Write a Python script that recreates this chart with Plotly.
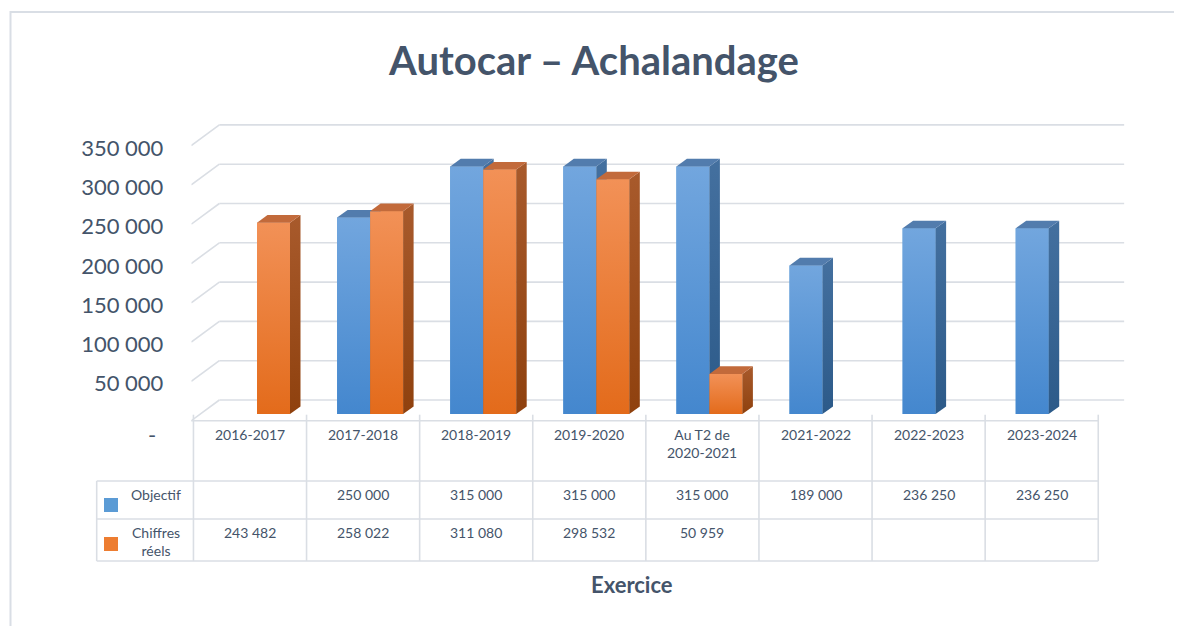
import plotly.graph_objects as go

# ---------------- data ----------------
categories = ["2016-2017", "2017-2018", "2018-2019", "2019-2020",
              "Au T2 de<br>2020-2021", "2021-2022", "2022-2023", "2023-2024"]
objectif = [None, 250000, 315000, 315000, 315000, 189000, 236250, 236250]
chiffres = [243482, 258022, 311080, 298532, 50959, None, None, None]
series_names = ["Objectif", "Chiffres réels"]
series_labels = ["Objectif", "Chiffres<br>réels"]
y_ticks = [50000, 100000, 150000, 200000, 250000, 300000, 350000]
title_text = "Autocar – Achalandage"
x_title = "Exercice"

# ---------------- geometry (pixels of the 1182x626 page) ----------------
PAGE_W, PAGE_H = 1182, 626
BODY = 8                         # default page margin around the figure div
W, H = PAGE_W - BODY, PAGE_H - BODY
PX0, PXS = 257.0, 113.1          # px of category 0 centre, px per category
PY0, PYS = 414.0, 0.000786       # px of value 0 on bar front plane, px per unit
X_RANGE = [-0.58, 7.7]
Y_RANGE = [-12000, 392000]
BAR_PX = 33.0
DEPTH = (10.5, -7.6)    # bar depth offset (px)
WALL = (18.9, -14.0)    # back wall offset from bar front plane (px)
FLOOR = (-9.2, 6.7)     # front floor edge offset from bar front plane (px)

TXT = "#44546A"
GRID = "#DADEE4"
FONT = "Lato"

def xpx(i):
    return PX0 + PXS * i

def ypx(v):
    return PY0 - PYS * v

def dxu(p):
    return p / PXS

def dyu(p):
    return -p / PYS

def px_x(p):
    return (p - BODY) / W

def px_y(p):
    return 1 - (p - BODY) / H

BW = BAR_PX / PXS

colors = {
    "Objectif": dict(front=("#4487CE", "#72A6DE"), side=("#2C5A89", "#44709F"),
                     top="#527CAD", solid="#5B9BD5"),
    "Chiffres réels": dict(front=("#E36B1B", "#F29157"), side=("#8F410E", "#A85A2C"),
                           top="#C26A3B", solid="#ED7D31"),
}

fig = go.Figure()

# bar traces (front faces) from the data
for name, vals, off in [(series_names[0], objectif, -BW), (series_names[1], chiffres, 0.0)]:
    fig.add_trace(go.Bar(
        x=list(range(len(categories))), y=vals, name=name, width=BW, offset=off,
        marker=dict(color=colors[name]["solid"], line=dict(width=0)),
        showlegend=False, hovertemplate="%{y:,d}<extra>" + name + "</extra>"))

# 3D shading faces computed from the same values
ddx, ddy = dxu(DEPTH[0]), dyu(DEPTH[1])
for name, vals, off in [(series_names[0], objectif, -BW), (series_names[1], chiffres, 0.0)]:
    c = colors[name]
    for i, v in enumerate(vals):
        if v is None:
            continue
        x0, x1 = i + off, i + off + BW
        # front with gradient
        fig.add_trace(go.Scatter(
            x=[x0, x1, x1, x0, x0], y=[0, 0, v, v, 0], mode="lines", fill="toself",
            line=dict(width=0), fillgradient=dict(type="vertical",
                                                   colorscale=[[0, c["front"][0]], [1, c["front"][1]]]),
            hoverinfo="skip", showlegend=False))
        # side face
        fig.add_trace(go.Scatter(
            x=[x1, x1 + ddx, x1 + ddx, x1, x1], y=[0, ddy, v + ddy, v, 0], mode="lines",
            fill="toself", line=dict(width=0),
            fillgradient=dict(type="vertical", colorscale=[[0, c["side"][0]], [1, c["side"][1]]]),
            hoverinfo="skip", showlegend=False))
        # top face
        fig.add_trace(go.Scatter(
            x=[x0, x1, x1 + ddx, x0 + ddx, x0], y=[v, v, v + ddy, v + ddy, v], mode="lines",
            fill="toself", fillcolor=c["top"], line=dict(width=0),
            hoverinfo="skip", showlegend=False))

shapes = []
# back wall gridlines and left-wall diagonals
wx, wy = dxu(WALL[0]), dyu(WALL[1])
fx, fy = dxu(FLOOR[0]), dyu(FLOOR[1])
xl, xr = -0.5, len(categories) - 0.5
for v in [0] + y_ticks:
    shapes.append(dict(type="line", xref="x", yref="y", x0=xl + wx, x1=xr + wx,
                       y0=v + wy, y1=v + wy, line=dict(color=GRID, width=1.6), layer="below"))
    shapes.append(dict(type="line", xref="x", yref="y", x0=xl + wx, x1=xl + fx,
                       y0=v + wy, y1=v + fy, line=dict(color=GRID, width=1.6), layer="below"))

# ---------------- data table ----------------
floor_y = ypx(0) + FLOOR[1]
row1, row2, row3 = 481.0, 519.0, 561.0
tbl_left = 96.7
div_off = -7.0
annotations = []

# front floor edge / table top
shapes.append(dict(type="line", xref="paper", yref="paper",
                   x0=px_x(xpx(xl) + FLOOR[0]), x1=px_x(xpx(xr) + div_off),
                   y0=px_y(floor_y), y1=px_y(floor_y), line=dict(color=GRID, width=1.6)))
# horizontal rows
for ry in [row1, row2, row3]:
    shapes.append(dict(type="line", xref="paper", yref="paper",
                       x0=px_x(tbl_left), x1=px_x(xpx(xr) + div_off),
                       y0=px_y(ry), y1=px_y(ry), line=dict(color=GRID, width=1.6)))
# vertical dividers
for k in range(len(categories) + 1):
    xp = xpx(k - 0.5) + div_off
    shapes.append(dict(type="line", xref="paper", yref="paper", x0=px_x(xp), x1=px_x(xp),
                       y0=px_y(floor_y - 6), y1=px_y(row3), line=dict(color=GRID, width=1.6)))
shapes.append(dict(type="line", xref="paper", yref="paper", x0=px_x(tbl_left), x1=px_x(tbl_left),
                   y0=px_y(row1), y1=px_y(row3), line=dict(color=GRID, width=1.6)))

# header and values
for i, cat in enumerate(categories):
    cx = px_x(xpx(i) + div_off)
    annotations.append(dict(text=cat, x=cx, y=px_y(424), xref="paper", yref="paper",
                            xanchor="center", yanchor="top", showarrow=False,
                            font=dict(family=FONT, size=14, color=TXT)))
    for vals, ty in [(objectif, 494), (chiffres, 532)]:
        v = vals[i]
        if v is None:
            continue
        annotations.append(dict(text=f"{v:,}".replace(",", " "), x=cx, y=px_y(ty),
                                xref="paper", yref="paper", xanchor="center", yanchor="middle",
                                showarrow=False, font=dict(family=FONT, size=14, color=TXT)))

# legend keys in the table
for name, lab, ty, sq in [(series_names[0], series_labels[0], 484, 498),
                          (series_names[1], series_labels[1], 522, 537)]:
    annotations.append(dict(text=lab, x=px_x(156), y=px_y(ty), xref="paper", yref="paper",
                            xanchor="center", yanchor="top", showarrow=False,
                            font=dict(family=FONT, size=14, color=TXT)))
    shapes.append(dict(type="rect", xref="paper", yref="paper", x0=px_x(104), x1=px_x(118),
                       y0=px_y(sq), y1=px_y(sq + 14), fillcolor=colors[name]["solid"],
                       line=dict(width=0)))

# zero label of the value axis
annotations.append(dict(text="-", x=px_x(151.7), y=px_y(435), xref="paper", yref="paper",
                        xanchor="center", yanchor="middle", showarrow=False,
                        font=dict(family=FONT, size=22, color=TXT)))
# axis title
annotations.append(dict(text=f"<b>{x_title}</b>", x=px_x(632), y=px_y(584), xref="paper",
                        yref="paper", xanchor="center", yanchor="middle", showarrow=False,
                        font=dict(family=FONT, size=22, color=TXT)))

# outer chart border
shapes.append(dict(type="rect", xref="paper", yref="paper", x0=px_x(10.5), y0=px_y(12),
                   x1=1.05, y1=-0.05, line=dict(color="#D9DEE5", width=2), layer="below"))

fig.update_layout(
    width=W, height=H, margin=dict(l=0, r=0, t=0, b=0),
    paper_bgcolor="white", plot_bgcolor="rgba(0,0,0,0)",
    barmode="overlay", separators=", ",
    font=dict(family=FONT, color=TXT),
    title=dict(text=f"<b>{title_text}</b>", x=px_x(594), y=px_y(61), xanchor="center",
               yanchor="middle", font=dict(family=FONT, size=40, color=TXT)),
    xaxis=dict(range=X_RANGE, domain=[px_x(xpx(X_RANGE[0])), px_x(xpx(X_RANGE[1]))],
               showgrid=False, zeroline=False, showticklabels=False, showline=False,
               fixedrange=True),
    yaxis=dict(range=Y_RANGE, domain=[px_y(ypx(Y_RANGE[0])), px_y(ypx(Y_RANGE[1]))],
               tickvals=y_ticks, tickformat=",d", showgrid=False, zeroline=False,
               showline=False, ticks="", ticklabelstandoff=27,
               ticklabelshift=9,
               tickfont=dict(family=FONT, size=22, color=TXT), fixedrange=True),
    shapes=shapes, annotations=annotations, showlegend=False,
)

fig.write_html("out.html")
